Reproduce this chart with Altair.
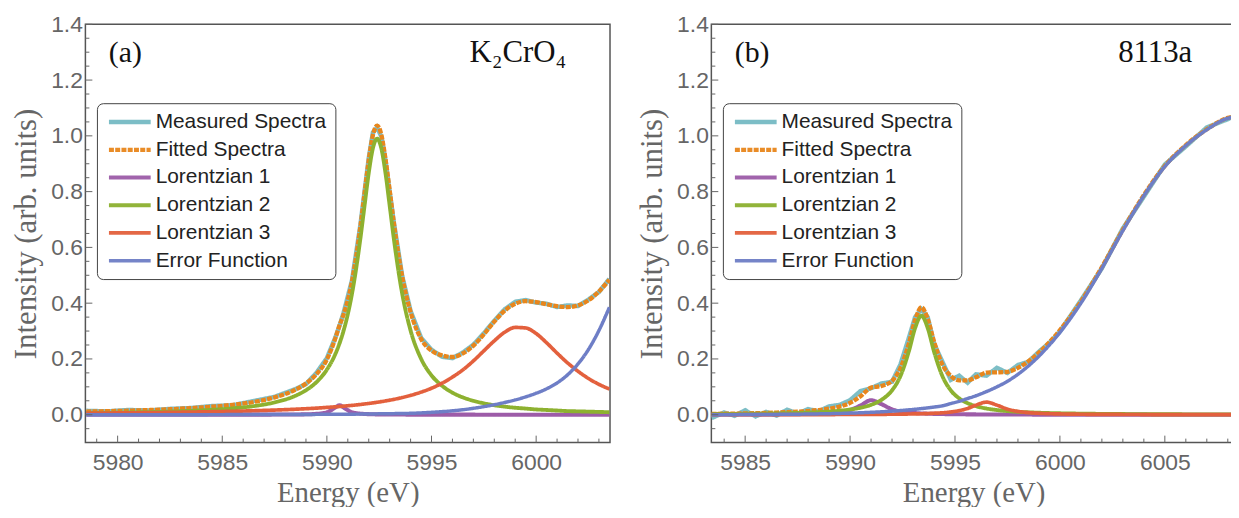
import altair as alt
import pandas as pd

# ---------------- panel (a): K2CrO4 ----------------
xa = [5978.5, 5979.5, 5980.5, 5981.5, 5982.5, 5983.5, 5984.5, 5985.5, 5986.5, 5987.5, 5988.5,
      5989.0, 5989.5, 5990.0, 5990.4, 5990.6, 5990.8, 5991.2, 5991.6, 5991.8,
      5992.0, 5992.2, 5992.4, 5992.6, 5992.8, 5993.0, 5993.2, 5993.6, 5994.0,
      5994.5, 5995.0, 5995.5, 5996.0, 5996.5, 5997.0, 5997.5, 5998.0, 5998.5, 5999.0,
      5999.5, 6000.0, 6000.5, 6001.0, 6001.5, 6002.0, 6002.5, 6003.0, 6003.5]
meas_a = [0.014, 0.012, 0.017, 0.015, 0.021, 0.024, 0.031, 0.034, 0.049, 0.064, 0.092,
          0.110, 0.150, 0.203, 0.276, 0.318, 0.366, 0.482, 0.680, 0.800,
          0.920, 1.012, 1.030, 0.998, 0.912, 0.800, 0.690, 0.497, 0.372,
          0.276, 0.233, 0.208, 0.203, 0.223, 0.251, 0.292, 0.337, 0.378, 0.405,
          0.411, 0.402, 0.398, 0.386, 0.392, 0.390, 0.413, 0.440, 0.487]
fit_a = [0.0112, 0.0127, 0.0145, 0.0168, 0.0196, 0.0236, 0.0286, 0.0355, 0.0457, 0.0621, 0.0897,
         0.112, 0.145, 0.198, 0.273, 0.320, 0.360, 0.478, 0.674, 0.794,
         0.912, 1.003, 1.037, 1.005, 0.918, 0.805, 0.688, 0.495, 0.368,
         0.272, 0.230, 0.213, 0.207, 0.220, 0.248, 0.288, 0.334, 0.373, 0.398,
         0.407, 0.404, 0.396, 0.389, 0.386, 0.392, 0.410, 0.442, 0.484]
lor1_a = [0.0, 0.0, 0.0, 0.0001, 0.0001, 0.0001, 0.0002, 0.0002, 0.0003, 0.0005, 0.0009,
          0.0015, 0.0031, 0.0086, 0.0256, 0.034, 0.0256, 0.0086, 0.0037, 0.0027,
          0.002, 0.0015, 0.0012, 0.001, 0.0008, 0.0007, 0.0006, 0.0005, 0.0004,
          0.0003, 0.0003, 0.0002, 0.0002, 0.0002, 0.0002, 0.0001, 0.0001, 0.0001, 0.0001,
          0.0001, 0.0001, 0.0001, 0.0001, 0.0001, 0.0001, 0.0001, 0.0001, 0.0001]
lor2_a = [0.0057, 0.0066, 0.0078, 0.0093, 0.0112, 0.0139, 0.0175, 0.0228, 0.0309, 0.0442, 0.0681,
          0.0878, 0.1167, 0.1617, 0.217, 0.255, 0.302, 0.434, 0.631, 0.750,
          0.867, 0.956, 0.990, 0.956, 0.867, 0.750, 0.631, 0.434, 0.302,
          0.201, 0.141, 0.104, 0.079, 0.062, 0.050, 0.041, 0.034, 0.029, 0.025,
          0.022, 0.019, 0.017, 0.015, 0.013, 0.012, 0.011, 0.010, 0.009]
lor3_a = [0.0055, 0.0061, 0.0067, 0.0075, 0.0084, 0.0095, 0.0108, 0.0123, 0.0143, 0.0167, 0.0197,
          0.0215, 0.0236, 0.0261, 0.0283, 0.0295, 0.0308, 0.0336, 0.0368, 0.0386,
          0.0404, 0.0425, 0.0446, 0.0470, 0.0495, 0.0522, 0.0551, 0.0617, 0.0694,
          0.081, 0.095, 0.113, 0.135, 0.161, 0.193, 0.229, 0.265, 0.296, 0.313,
          0.311, 0.291, 0.258, 0.221, 0.186, 0.156, 0.130, 0.109, 0.092]
erf_a = [0.0, 0.0, 0.0, 0.0, 0.0, 0.0002, 0.0003, 0.0004, 0.0005, 0.0007, 0.0009,
         0.001, 0.0012, 0.0014, 0.0016, 0.0017, 0.0018, 0.002, 0.0022, 0.0024,
         0.0026, 0.0028, 0.003, 0.0032, 0.0034, 0.0036, 0.0039, 0.0045, 0.005,
         0.0065, 0.0085, 0.011, 0.014, 0.018, 0.023, 0.029, 0.036, 0.044, 0.053,
         0.064, 0.077, 0.093, 0.114, 0.143, 0.182, 0.234, 0.302, 0.385]

# ---------------- panel (b): 8113a ----------------
xb = [5983.4, 5984.0, 5984.5, 5985.0, 5985.5, 5986.0, 5986.5, 5987.0, 5987.5, 5988.0, 5988.5,
      5989.0, 5989.5, 5990.0, 5990.5, 5991.0, 5991.5, 5992.0, 5992.4, 5992.8,
      5993.1, 5993.4, 5993.7, 5994.0, 5994.4, 5994.8, 5995.2, 5995.6, 5996.0,
      5996.5, 5997.0, 5997.5, 5998.0, 5998.5, 5999.0, 5999.5, 6000.0,
      6001.0, 6002.0, 6003.0, 6004.0, 6005.0, 6006.0, 6007.0, 6008.0, 6008.4]
meas_b = [-0.012, 0.008, -0.004, 0.016, -0.006, 0.010, -0.003, 0.018, 0.004, 0.020, 0.012,
          0.030, 0.035, 0.052, 0.085, 0.095, 0.112, 0.118, 0.180, 0.275,
          0.350, 0.378, 0.350, 0.255, 0.190, 0.125, 0.140, 0.115, 0.145,
          0.140, 0.168, 0.150, 0.178, 0.190, 0.226, 0.258, 0.298,
          0.410, 0.525, 0.668, 0.782, 0.897, 0.962, 1.030, 1.060, 1.075]
fit_b = [0.0029, 0.0035, 0.0040, 0.0047, 0.0055, 0.0064, 0.0076, 0.0091, 0.0109, 0.0133, 0.0168,
         0.0216, 0.0291, 0.0422, 0.0663, 0.0971, 0.1031, 0.1213, 0.1674, 0.2547,
         0.3395, 0.3851, 0.3435, 0.2627, 0.1799, 0.1392, 0.1228, 0.1233, 0.1342,
         0.1511, 0.1519, 0.1538, 0.1679, 0.1916, 0.2227, 0.2601, 0.3033,
         0.4059, 0.5294, 0.6635, 0.7878, 0.8923, 0.9669, 1.0236, 1.0645, 1.0705]
lor1_b = [0.0005, 0.0006, 0.0006, 0.0008, 0.0009, 0.0011, 0.0013, 0.0017, 0.0021, 0.0028, 0.004,
          0.0059, 0.0095, 0.017, 0.0332, 0.0518, 0.0377, 0.0194, 0.0118, 0.0077,
          0.0059, 0.0046, 0.0037, 0.003, 0.0024, 0.0019, 0.0016, 0.0013, 0.0011,
          0.0009, 0.0008, 0.0007, 0.0006, 0.0005, 0.0004, 0.0004, 0.0004,
          0.0003, 0.0002, 0.0002, 0.0002, 0.0001, 0.0001, 0.0001, 0.0001, 0.0001]
lor2_b = [0.0023, 0.0026, 0.0029, 0.0032, 0.0036, 0.0041, 0.0047, 0.0055, 0.0064, 0.0076, 0.0092,
          0.0114, 0.0143, 0.0186, 0.0251, 0.0355, 0.0535, 0.0874, 0.1385, 0.227,
          0.311, 0.355, 0.311, 0.227, 0.1385, 0.0874, 0.0586, 0.0415, 0.0307,
          0.0222, 0.0167, 0.013, 0.0104, 0.0085, 0.0071, 0.006, 0.0051,
          0.0039, 0.003, 0.0024, 0.002, 0.0017, 0.0014, 0.0012, 0.0011, 0.0011]
lor3_b = [0.0002, 0.0002, 0.0003, 0.0003, 0.0003, 0.0003, 0.0004, 0.0004, 0.0005, 0.0005, 0.0006,
          0.0006, 0.0007, 0.0009, 0.001, 0.0012, 0.0014, 0.0017, 0.0021, 0.0025,
          0.003, 0.0035, 0.0042, 0.0052, 0.007, 0.0099, 0.0146, 0.0225, 0.0344,
          0.045, 0.0344, 0.0201, 0.0119, 0.0076, 0.0052, 0.0037, 0.0028,
          0.0017, 0.0012, 0.0009, 0.0006, 0.0005, 0.0004, 0.0003, 0.0003, 0.0003]
erf_b = [0.0, 0.0002, 0.0003, 0.0005, 0.0007, 0.0009, 0.0012, 0.0015, 0.0019, 0.0024, 0.003,
         0.0037, 0.0046, 0.0057, 0.007, 0.0086, 0.0105, 0.0128, 0.015, 0.0175,
         0.0196, 0.022, 0.0246, 0.0275, 0.032, 0.040, 0.048, 0.058, 0.068,
         0.083, 0.100, 0.120, 0.145, 0.175, 0.210, 0.250, 0.295,
         0.400, 0.525, 0.660, 0.785, 0.890, 0.965, 1.022, 1.063, 1.068]

series = ["Measured Spectra", "Fitted Spectra", "Lorentzian 1", "Lorentzian 2",
          "Lorentzian 3", "Error Function"]
colors = ["#76BAC3", "#E8861C", "#9D5CA8", "#8DB130", "#E3603D", "#6E7EC6"]
widths = [4.5, 3.5, 1.3, 1.3, 1.3, 1.3]
dashes = [[1, 0], [5, 1.3], [1, 0], [1, 0], [1, 0], [1, 0]]

y_major = [0.0, 0.2, 0.4, 0.6, 0.8, 1.0, 1.2, 1.4]
y_minor = [-0.05, 0.05, 0.1, 0.15, 0.25, 0.3, 0.35, 0.45, 0.5, 0.55, 0.65, 0.7, 0.75,
           0.85, 0.9, 0.95, 1.05, 1.1, 1.15, 1.25, 1.3, 1.35]
xa_major = [5980, 5985, 5990, 5995, 6000]
xa_minor = [5979, 5981, 5982, 5983, 5984, 5986, 5987, 5988, 5989, 5991, 5992, 5993,
            5994, 5996, 5997, 5998, 5999, 6001, 6002, 6003]
xb_major = [5985, 5990, 5995, 6000, 6005]
xb_minor = [5984, 5986, 5987, 5988, 5989, 5991, 5992, 5993, 5994, 5996, 5997, 5998,
            5999, 6001, 6002, 6003, 6004, 6006, 6007, 6008]

PLOT_H = 421
PLOT_W = 528
TICK = "#666666"


def long_table(x, cols):
    rows = []
    for name, vals in zip(series, cols):
        for e, v in zip(x, vals):
            rows.append({"E": e, "I": v, "series": name})
    return pd.DataFrame(rows)


def panel(df, xdom, xmaj, xmin, tag, sample):
    xsc = alt.Scale(domain=xdom, nice=False, zero=False)
    ysc = alt.Scale(domain=[-0.1, 1.4], nice=False, zero=False)
    xaxis = alt.Axis(values=xmaj, format="d", title="Energy (eV)", labelFlush=False)
    yaxis = alt.Axis(values=y_major, format=".1f", title="Intensity (arb. units)")
    xenc = alt.X("E:Q", scale=xsc, axis=xaxis)
    yenc = alt.Y("I:Q", scale=ysc, axis=yaxis)
    leg = alt.Legend(title=None, symbolType="M-1.15,0L5.85,0", symbolSize=144,
                     labelLimit=400)
    enc = dict(
        x=xenc, y=yenc,
        color=alt.Color("series:N", scale=alt.Scale(domain=series, range=colors),
                        legend=leg, sort=series),
        strokeDash=alt.StrokeDash("series:N", scale=alt.Scale(domain=series, range=dashes),
                                  legend=leg, sort=series),
        strokeWidth=alt.StrokeWidth("series:N", scale=alt.Scale(domain=series, range=widths),
                                    legend=leg, sort=series),
    )
    base = alt.Chart(df)
    meas = base.transform_filter(alt.datum.series == series[0]).mark_line(
        interpolate="linear", opacity=0.95, clip=True).encode(**enc)
    fit = base.transform_filter(alt.datum.series == series[1]).mark_line(
        interpolate="monotone", clip=True).encode(**enc)
    comp = base.transform_filter(
        alt.FieldOneOfPredicate(field="series", oneOf=series[2:])).mark_line(
        interpolate="monotone", clip=True).encode(**enc)

    ymaj = alt.Chart(pd.DataFrame({"I": y_major})).mark_rule(color=TICK, strokeWidth=1).encode(
        y=alt.Y("I:Q", scale=ysc, axis=yaxis), x=alt.value(0), x2=alt.value(7))
    ymin = alt.Chart(pd.DataFrame({"I": y_minor})).mark_rule(color=TICK, strokeWidth=1).encode(
        y=alt.Y("I:Q", scale=ysc, axis=yaxis), x=alt.value(0), x2=alt.value(4))
    xmj = alt.Chart(pd.DataFrame({"E": xmaj})).mark_rule(color=TICK, strokeWidth=1).encode(
        x=alt.X("E:Q", scale=xsc, axis=xaxis), y=alt.value(PLOT_H), y2=alt.value(PLOT_H - 7))
    xmn = alt.Chart(pd.DataFrame({"E": xmin})).mark_rule(color=TICK, strokeWidth=1).encode(
        x=alt.X("E:Q", scale=xsc, axis=xaxis), y=alt.value(PLOT_H), y2=alt.value(PLOT_H - 4))

    t1 = alt.Chart(pd.DataFrame({"t": [tag]})).mark_text(
        font="Liberation Serif", fontSize=30, color="#111", align="left",
        baseline="alphabetic").encode(text="t:N", x=alt.value(23.5), y=alt.value(38))
    t2 = alt.Chart(pd.DataFrame({"t": [sample]})).mark_text(
        font="Liberation Serif", fontSize=31, color="#111", align="right",
        baseline="alphabetic").encode(text="t:N", x=alt.value(484), y=alt.value(38))

    return alt.layer(meas, fit, comp, ymaj, ymin, xmj, xmn, t1, t2).properties(
        width=PLOT_W, height=PLOT_H)


df_a = long_table(xa, [meas_a, fit_a, lor1_a, lor2_a, lor3_a, erf_a])
df_b = long_table(xb, [meas_b, fit_b, lor1_b, lor2_b, lor3_b, erf_b])

pa = panel(df_a, [5978.46, 6003.53], xa_major, xa_minor, "(a)", "K\u2082CrO\u2084")
pb = panel(df_b, [5983.39, 6008.39], xb_major, xb_minor, "(b)", "8113a")

chart = alt.hconcat(pa, pb, spacing=25).resolve_scale(
    x="independent", y="independent", color="independent",
    strokeDash="independent", strokeWidth="independent"
).properties(
    padding={"left": 1.9, "top": 2.8, "right": -6, "bottom": -4}
).configure_view(
    stroke="#555", strokeWidth=1.5
).configure_axis(
    labelFont="Liberation Sans", labelFontSize=23, labelColor="#666",
    titleFont="Liberation Serif", titleFontSize=31, titleColor="#666",
    titleFontWeight="normal", ticks=False, domain=False, grid=False
).configure_axisX(
    labelPadding=9.5, titlePadding=3.8, titleFontSize=29
).configure_axisY(
    labelPadding=3, titlePadding=8
).configure_legend(
    orient="none", legendX=11.6, legendY=79.4,
    fillColor="white", strokeColor="#444", cornerRadius=6, padding=8.5,
    labelFont="Liberation Sans", labelFontSize=21, labelColor="#222",
    rowPadding=5.9, labelOffset=29.6
)

chart.save("out.html", embed_options={"renderer": "svg", "actions": False})
